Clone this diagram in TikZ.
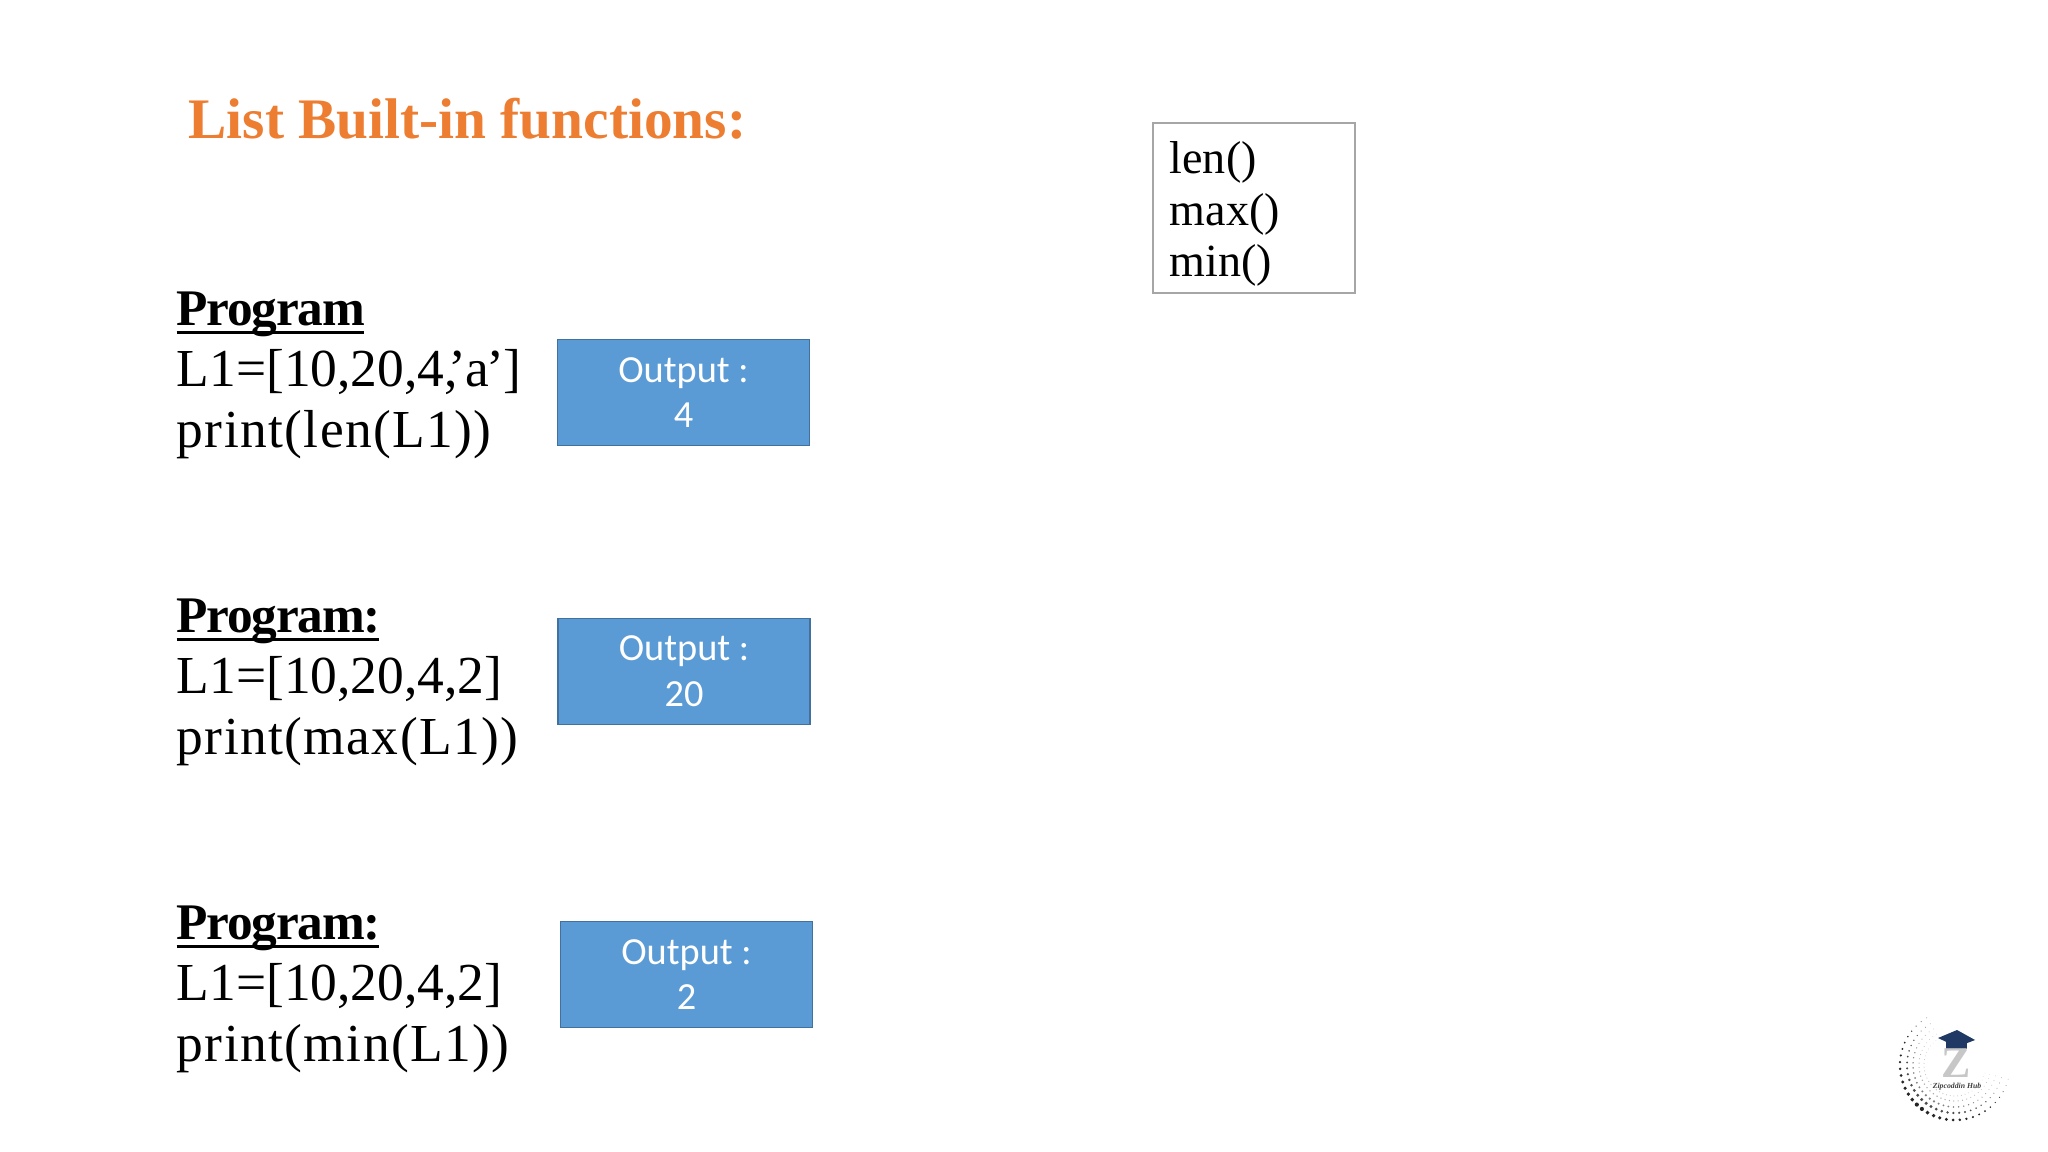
\documentclass[tikz,border=0pt]{standalone}
\usepackage{fontspec}
\setmainfont{Liberation Serif}
\newfontfamily\outfont{Carlito}
\newcommand{\proghead}[1]{\setbox0=\hbox{\fontsize{14.6}{17.4}\selectfont\addfontfeature{LetterSpace=-2.5}\textbf{#1}}\rlap{\rule[-2.4pt]{\wd0}{0.7pt}}\box0}
\newcommand{\progcall}[1]{{\addfontfeature{LetterSpace=2.6}#1}}
\definecolor{titleorange}{HTML}{ED7D31}
\definecolor{outblue}{HTML}{5B9BD5}
\definecolor{outedge}{HTML}{41719C}
\definecolor{capblue}{HTML}{1F3864}
\tikzset{
  prog/.style={anchor=north west,inner sep=0pt,align=left,font=\fontsize{15.2}{17.4}\selectfont},
  outbox/.style={draw=outedge,fill=outblue,line width=0.5pt,text=white,align=center,minimum width=2.52cm,minimum height=1.06cm,inner sep=0pt,font=\outfont\fontsize{10.9}{13}\selectfont},
}
\begin{document}
\begin{tikzpicture}[x=0.01cm,y=-0.01cm]
\useasboundingbox (0,0) rectangle (2048,1152);
\fill[white] (0,0) rectangle (2048,1152);
\node[anchor=base west,inner sep=0pt,text=titleorange,font=\fontsize{16.3}{20}\selectfont\bfseries] (title) at (188,139) {List Built-in functions:};
\node[prog] (prog1) at (176,291) {\proghead{Program}\\L1=[10,20,4,\kern-2.5pt’\kern-0.5pt a\kern-0.5pt’\kern-0.5pt]\\\progcall{print(len(L1))}};
\node[prog] (prog2) at (176,598) {\proghead{Program:}\\L1=[10,20,4,2]\\\progcall{print(max(L1))}};
\node[prog] (prog3) at (176,905) {\proghead{Program:}\\L1=[10,20,4,2]\\\progcall{print(min(L1))}};
\node[outbox] (out1) at (683.5,392.5) {Output :\\4};
\node[outbox] (out2) at (684,671.5) {Output :\\20};
\node[outbox] (out3) at (686.5,974.5) {Output :\\2};
\node[draw=black!35,line width=0.5pt,minimum width=2.02cm,minimum height=1.7cm,inner sep=0pt] (funcs) at (1254,208) {};
\node[anchor=north west,inner sep=0pt,align=left,font=\fontsize{13.1}{14.6}\selectfont] (funcstext) at (1169,141) {len()\\max()\\min()};
% logo
\foreach \r/\s/\g in {55/1.9/85,48/1.5/70,42/1.0/50,36/0.6/35,31/0.4/25}
  \foreach \a in {15,22,...,240}
    \fill[black!\g] (1955+\r*cos{\a},1065+\r*sin{\a}) circle[radius={\s*max(0,1-abs(\a-130)/115)+0.25}];
\fill[capblue] (1938,1038) -- (1957,1030) -- (1975,1040) -- (1957,1047) -- cycle;
\fill[capblue] (1946,1041) rectangle (1967,1049);
\node[inner sep=0pt,text=black!22,font=\fontsize{12.5}{13}\selectfont\bfseries] (logoz) at (1956,1063) {Z};
\node[inner sep=0pt,text=black!75,font=\fontsize{2.2}{3}\selectfont\bfseries\itshape] (logoname) at (1957,1087) {Zipcoddin Hub};
\end{tikzpicture}
\end{document}
